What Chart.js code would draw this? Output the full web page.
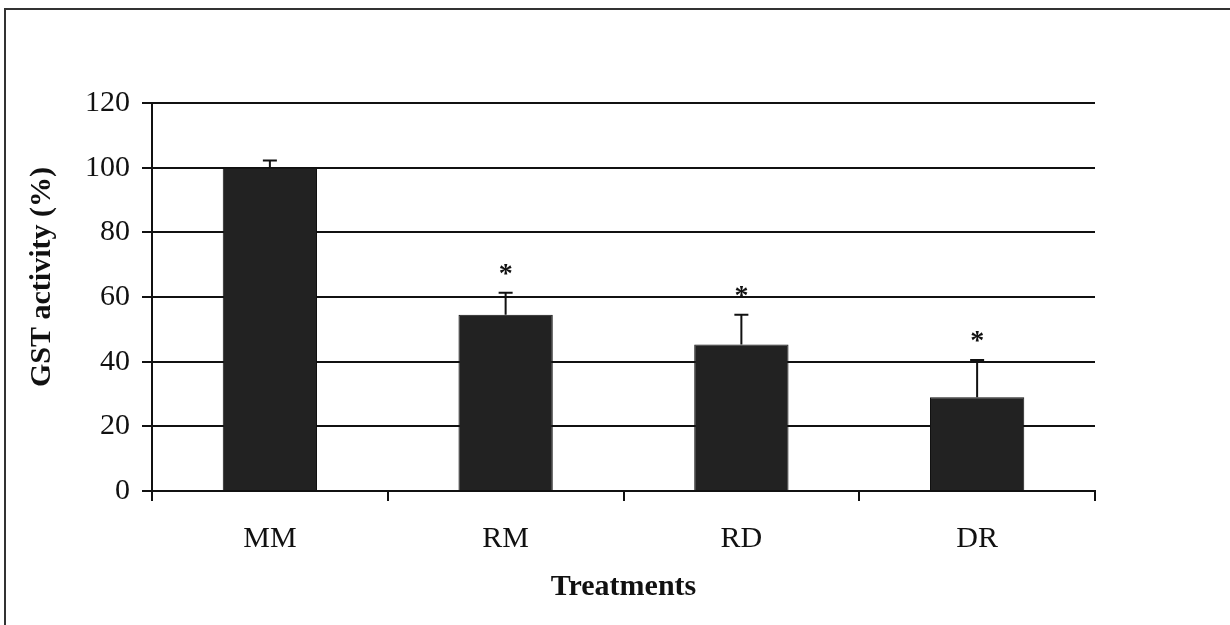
<!DOCTYPE html>
<html>
<head>
<meta charset="utf-8">
<script src="https://cdn.jsdelivr.net/npm/chart.js@4/dist/chart.umd.min.js"></script>
<style>
  html, body { margin: 0; padding: 0; background: #fff; }
  canvas { display: block; }
</style>
</head>
<body>
<canvas id="c" width="1230" height="625"></canvas>
<script>
const categories = ['MM', 'RM', 'RD', 'DR'];
const values = [100, 54.5, 45.3, 29];
const errors = [2.2, 6.8, 9.2, 11.5];
const significance = ['', '*', '*', '*'];
const yTicks = [0, 20, 40, 60, 80, 100, 120];
const yTitle = 'GST activity (%)';
const xTitle = 'Treatments';

const SERIF = "'Liberation Serif', 'Times New Roman', serif";

const framePlugin = {
  id: 'frame',
  beforeDraw(chart) {
    const ctx = chart.ctx;
    ctx.save();
    ctx.fillStyle = '#fff';
    ctx.fillRect(0, 0, chart.width, chart.height);
    ctx.strokeStyle = '#333';
    ctx.lineWidth = 2;
    ctx.beginPath();
    ctx.moveTo(5, chart.height);
    ctx.lineTo(5, 9);
    ctx.lineTo(chart.width, 9);
    ctx.stroke();
    ctx.restore();
  },
  afterDraw(chart) {
    const ctx = chart.ctx;
    ctx.save();
    ctx.fillStyle = '#111';
    ctx.font = 'bold 30px ' + SERIF;
    ctx.textAlign = 'center';
    ctx.textBaseline = 'middle';
    ctx.translate(42, chart.chartArea.top + (chart.chartArea.bottom - chart.chartArea.top) / 2 - 20);
    ctx.rotate(-Math.PI / 2);
    ctx.fillText(yTitle, 0, 0);
    ctx.restore();
  }
};

const errorPlugin = {
  id: 'errbars',
  afterDatasetsDraw(chart) {
    const ctx = chart.ctx;
    const meta = chart.getDatasetMeta(0);
    const yScale = chart.scales.y;
    ctx.save();
    meta.data.forEach((bar, i) => {
      const x = bar.x;
      const top = yScale.getPixelForValue(values[i] + errors[i]);
      ctx.strokeStyle = '#111';
      ctx.lineWidth = 2;
      ctx.beginPath();
      ctx.moveTo(x, bar.y);
      ctx.lineTo(x, top);
      ctx.moveTo(x - 7, top);
      ctx.lineTo(x + 7, top);
      ctx.stroke();
      if (significance[i]) {
        ctx.fillStyle = '#111';
        ctx.font = 'bold 28px ' + SERIF;
        ctx.textAlign = 'center';
        ctx.textBaseline = 'middle';
        ctx.fillText(significance[i], x, top - 18);
      }
    });
    ctx.restore();
  }
};

new Chart(document.getElementById('c'), {
  type: 'bar',
  data: {
    labels: categories,
    datasets: [{
      data: values,
      backgroundColor: '#222222',
      borderColor: '#111111',
      borderWidth: 1,
      categoryPercentage: 1.0,
      barPercentage: 0.4
    }]
  },
  options: {
    responsive: false,
    animation: false,
    devicePixelRatio: 1,
    layout: { padding: { left: 0, right: 135, top: 103, bottom: 0 } },
    plugins: {
      legend: { display: false },
      tooltip: { enabled: false }
    },
    scales: {
      x: {
        offset: true,
        grid: {
          display: true,
          drawOnChartArea: false,
          drawTicks: true,
          tickLength: 10,
          offset: true,
          color: '#111',
          lineWidth: 2
        },
        border: { display: true, color: '#111', width: 2 },
        ticks: {
          color: '#111',
          padding: 20,
          font: { family: SERIF, size: 30 }
        },
        title: {
          display: true,
          text: xTitle,
          color: '#111',
          font: { family: SERIF, size: 30, weight: 'bold' },
          padding: { top: 0, bottom: 20 }
        },
        afterFit(scale) { scale.height = 134; }
      },
      y: {
        min: 0,
        max: 120,
        afterBuildTicks(scale) { scale.ticks = yTicks.map(v => ({ value: v })); },
        grid: {
          color: '#111',
          lineWidth: 2,
          drawTicks: true,
          tickLength: 10
        },
        border: { display: true, color: '#111', width: 2 },
        ticks: {
          color: '#111',
          padding: 12,
          font: { family: SERIF, size: 30 }
        },
        title: { display: false },
        afterFit(scale) { scale.width = 152; }
      }
    }
  },
  plugins: [framePlugin, errorPlugin]
});
</script>
</body>
</html>
